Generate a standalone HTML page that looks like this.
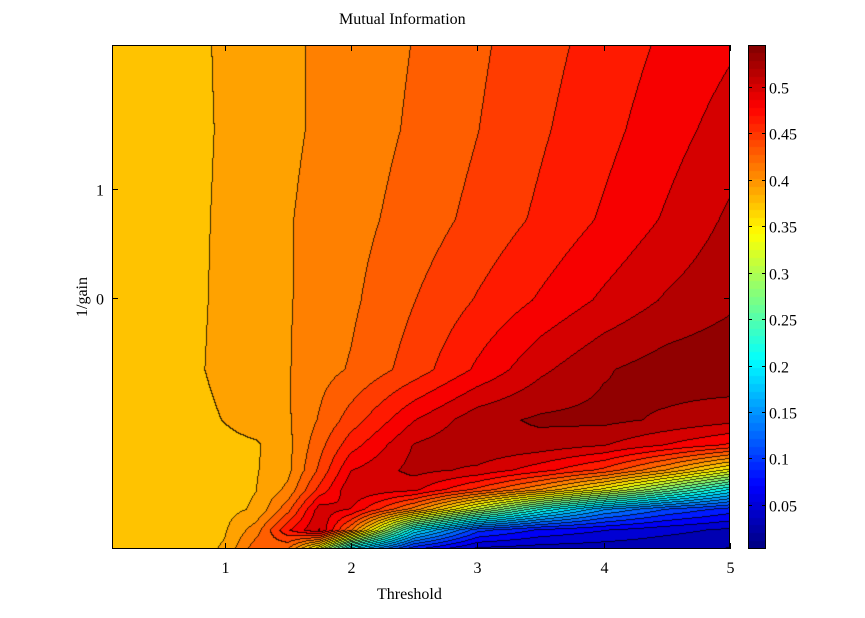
<!DOCTYPE html>
<html><head><meta charset="utf-8"><style>
body{margin:0;background:#fff;width:865px;height:618px;overflow:hidden;position:relative;font-family:"Liberation Serif",serif;}
.t{position:absolute;font-size:16px;color:#000;white-space:nowrap;}
canvas{position:absolute;}
</style></head><body>
<div class="t" style="left:339px;top:11px;">Mutual Information</div>
<div class="t" style="left:377px;top:586px;">Threshold</div>
<div class="t" style="left:58px;top:288px;transform:rotate(-90deg);transform-origin:center;width:50px;text-align:center;">1/gain</div>
<canvas id="plot" width="618" height="504" style="left:112px;top:45px;"></canvas>
<canvas id="cbar" width="18" height="504" style="left:748px;top:45px;"></canvas>
<svg id="ax" width="865" height="618" style="position:absolute;left:0;top:0;"></svg>
<script>
// Data grid: columns (threshold), rows (1/gain), values per row (top to bottom)
const thresholds=[0.105,0.7,1.0,1.25,1.5,1.75,2.0,2.5,3.0,3.5,4.0,4.5,5.0];
const gainRows=[2.32,1.54,0.72,-0.02,-0.66,-1.12,-1.35,-1.58,-1.76,-1.94,-2.13,-2.30];
const row0=[0.368,0.375,0.386,0.391,0.397,0.403,0.408,0.419,0.433,0.448,0.462,0.476,0.488];
const row1=[0.368,0.375,0.385,0.391,0.397,0.403,0.409,0.421,0.436,0.452,0.467,0.483,0.499];
const row2=[0.368,0.376,0.386,0.393,0.399,0.406,0.412,0.426,0.442,0.458,0.475,0.493,0.512];
const row3=[0.368,0.376,0.387,0.393,0.399,0.407,0.415,0.436,0.456,0.475,0.494,0.511,0.523];
const row4=[0.368,0.377,0.388,0.393,0.399,0.412,0.420,0.445,0.476,0.505,0.525,0.536,0.541];
const row5=[0.368,0.374,0.383,0.391,0.398,0.420,0.445,0.490,0.520,0.530,0.532,0.524,0.515];
const row6=[0.368,0.373,0.377,0.380,0.395,0.430,0.465,0.510,0.525,0.520,0.510,0.490,0.470];
const row7=[0.368,0.372,0.376,0.381,0.395,0.440,0.490,0.515,0.505,0.480,0.450,0.400,0.340];
const row8=[0.368,0.372,0.376,0.382,0.405,0.460,0.505,0.495,0.450,0.400,0.340,0.270,0.200];
const row9=[0.368,0.371,0.376,0.385,0.430,0.500,0.490,0.410,0.310,0.220,0.150,0.110,0.085];
const row10=[0.368,0.371,0.380,0.410,0.470,0.510,0.420,0.200,0.100,0.072,0.058,0.045,0.035];
const row11=[0.368,0.371,0.385,0.430,0.420,0.330,0.190,0.080,0.035,0.030,0.028,0.024,0.020];
const grid=[row0,row1,row2,row3,row4,row5,row6,row7,row8,row9,row10,row11];
const xTicks=[1,2,3,4,5];
const yTicks=[1,0];
const cbTicks=[0.05,0.1,0.15,0.2,0.25,0.3,0.35,0.4,0.45,0.5];
const vmin=0.0026, vmax=0.545, nLevels=30;

const PX=112,PY=45,PW=618,PH=504;
const xMin=0.105,xMax=5.0,yTop=2.32,yBot=-2.30;
function xScale(t){return PX+(t-xMin)/(xMax-xMin)*PW;}
function yScale(g){return PY+(yTop-g)/(yTop-yBot)*PH;}
function cbScale(v){return PY+PH-(v-vmin)/(vmax-vmin)*PH;}
function jet(f){const c=x=>Math.max(0,Math.min(1,x));return [c(1.5-Math.abs(4*f-3)),c(1.5-Math.abs(4*f-2)),c(1.5-Math.abs(4*f-1))];}

function findIdx(arr,v,desc){
  for(let i=0;i<arr.length-1;i++){
    const a=arr[i],b=arr[i+1];
    if(desc? (v<=a&&v>=b):(v>=a&&v<=b)) return [i,(v-a)/(b-a)];
  }
  return desc? (v>arr[0]?[0,0]:[arr.length-2,1]) : (v<arr[0]?[0,0]:[arr.length-2,1]);
}
function valueAt(t,g){
  const [i,fx]=findIdx(thresholds,t,false);
  const [j,fy]=findIdx(gainRows,g,true);
  const a=grid[j][i],b=grid[j][i+1],c=grid[j+1][i],d=grid[j+1][i+1];
  return (a*(1-fx)+b*fx)*(1-fy)+(c*(1-fx)+d*fx)*fy;
}
// plot
const cv=document.getElementById('plot'),ctx=cv.getContext('2d');
const img=ctx.createImageData(PW,PH);
const step=(vmax-vmin)/nLevels;
const band=new Int16Array(PW*PH);
for(let y=0;y<PH;y++){
  const g=yTop-(y+0.5)/PH*(yTop-yBot);
  for(let x=0;x<PW;x++){
    const t=xMin+(x+0.5)/PW*(xMax-xMin);
    const v=valueAt(t,g);
    band[y*PW+x]=Math.max(0,Math.min(nLevels-1,Math.floor((v-vmin)/step)));
  }
}
for(let y=0;y<PH;y++)for(let x=0;x<PW;x++){
  const k=y*PW+x,b=band[k];
  let col=jet((b+0.5)/nLevels).map(c=>c*255);
  const edge=(x<PW-1&&band[k+1]!==b)||(y<PH-1&&band[k+PW]!==b);
  if(edge)col=col.map(c=>c*0.2);
  img.data[k*4]=col[0];img.data[k*4+1]=col[1];img.data[k*4+2]=col[2];img.data[k*4+3]=255;
}
ctx.putImageData(img,0,0);
// colorbar
const cb=document.getElementById('cbar'),cctx=cb.getContext('2d');
for(let y=0;y<PH;y++){
  const f=Math.floor((1-(y+0.5)/PH)*64)/64+1/128;
  const c=jet(f).map(v=>Math.round(v*255));
  cctx.fillStyle=`rgb(${c[0]},${c[1]},${c[2]})`;cctx.fillRect(0,y,18,1);
}
// axes
const NS='http://www.w3.org/2000/svg',svg=document.getElementById('ax');
function mk(tag,attrs){const e=document.createElementNS(NS,tag);for(const k in attrs)e.setAttribute(k,attrs[k]);svg.appendChild(e);return e;}
const frame=mk('rect',{x:PX+0.5,y:PY+0.5,width:PW-1,height:PH-1,fill:'none',stroke:'#000','stroke-width':1});


const cframe=mk('rect',{x:748.5,y:PY+0.5,width:17,height:PH-1,fill:'none',stroke:'#000','stroke-width':1});


xTicks.forEach(t=>{
  const x=Math.round(xScale(t))+0.5;
  mk('line',{x1:x,x2:x,y1:PY+PH,y2:PY+PH-6,stroke:'#000'});
  mk('line',{x1:x,x2:x,y1:PY,y2:PY+6,stroke:'#000'});
  const tx=mk('text',{x:x,y:PY+PH+24,'text-anchor':'middle','font-size':16,'font-family':'Liberation Serif, serif'});
  tx.textContent=t;
  
  
});
yTicks.forEach(g=>{
  const y=Math.round(yScale(g))+0.5;
  mk('line',{x1:PX,x2:PX+6,y1:y,y2:y,stroke:'#000'});
  mk('line',{x1:PX+PW,x2:PX+PW-6,y1:y,y2:y,stroke:'#000'});
  const tx=mk('text',{x:PX-8,y:y+6,'text-anchor':'end','font-size':16,'font-family':'Liberation Serif, serif'});
  tx.textContent=g;
  
  
});
cbTicks.forEach(v=>{
  const y=Math.round(cbScale(v))+0.5;
  mk('line',{x1:748,x2:752,y1:y,y2:y,stroke:'#000'});
  mk('line',{x1:766,x2:762,y1:y,y2:y,stroke:'#000'});
  const tx=mk('text',{x:769,y:y+6,'font-size':16,'font-family':'Liberation Serif, serif'});
  tx.textContent=v;
  
  
});
</script>
</body></html>
